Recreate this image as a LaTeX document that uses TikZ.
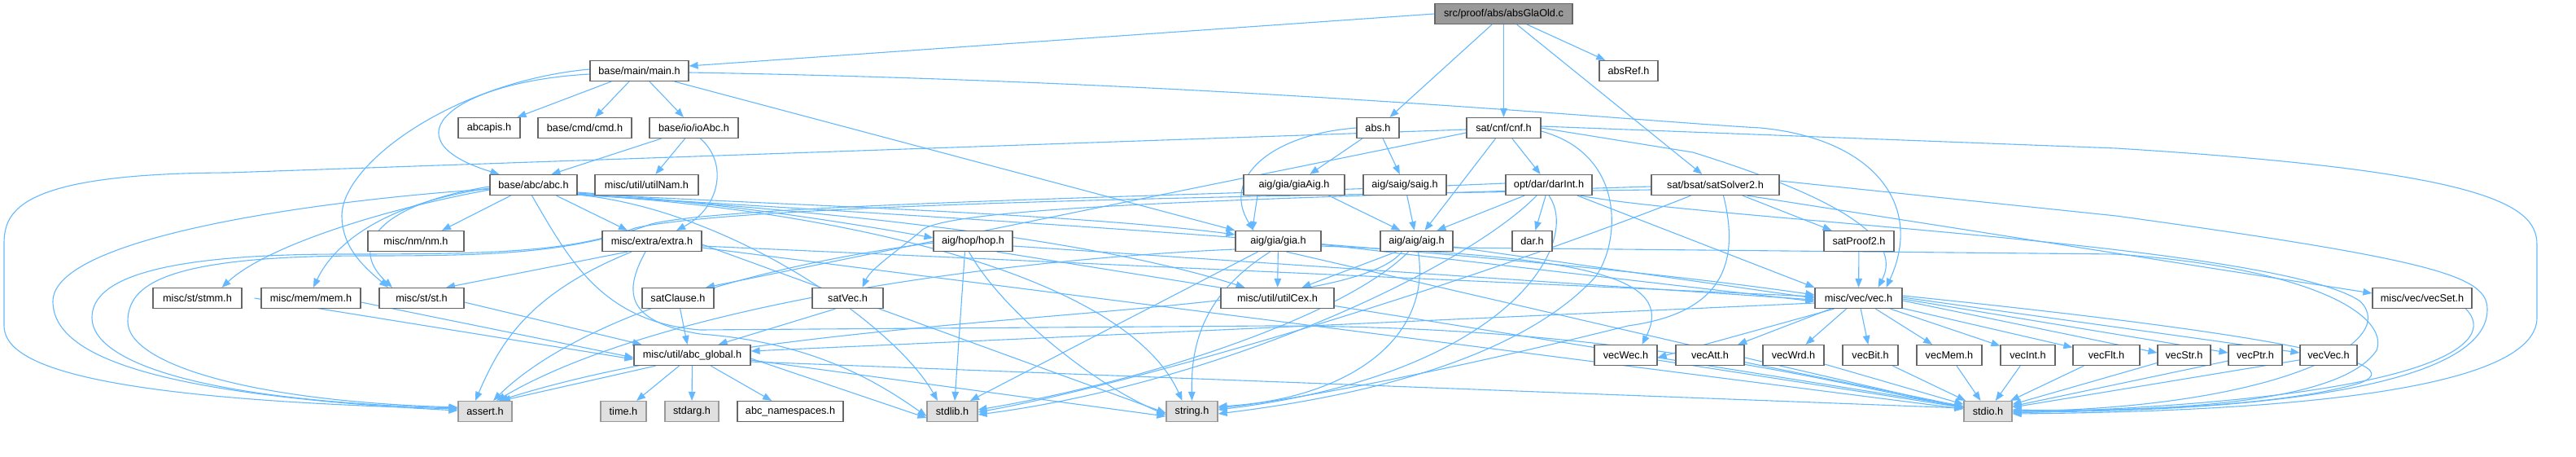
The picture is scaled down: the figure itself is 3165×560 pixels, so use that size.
\documentclass[tikz,border=0pt]{standalone}
\usepackage{fontspec}
\setmainfont{Liberation Sans}
\usetikzlibrary{arrows.meta}
\definecolor{edgec}{HTML}{63B8FF}
\definecolor{bordc}{HTML}{666666}
\definecolor{sysfill}{HTML}{E0E0E0}
\definecolor{sysbord}{HTML}{999999}
\definecolor{rootfill}{HTML}{999999}
\pgfdeclarelayer{bg}
\pgfsetlayers{bg,main}
\begin{document}
\begin{tikzpicture}[x=1pt,y=-1pt,
 hbox/.style={draw=bordc, line width=1.2pt, fill=white, minimum height=25pt, inner sep=0pt, font=\fontsize{12.7}{15}\selectfont, text=black},
 sysbox/.style={hbox, fill=sysfill, draw=sysbord},
 rootbox/.style={hbox, fill=rootfill},
 edge/.style={draw=edgec, line width=1.1pt, -{Triangle[length=11pt,width=8.5pt]}},
]
\useasboundingbox (0,0) rectangle (3165,560);
% row 0
\node[rootbox, minimum width=169pt] (src) at (1847.5,17) {src/proof/abs/absGlaOld.c};
% row 1
\node[hbox, minimum width=121pt] (main) at (785.5,87) {base/main/main.h};
\node[hbox, minimum width=72pt] (absRef) at (2001,87) {absRef.h};
% row 2
\node[hbox, minimum width=76pt] (abcapis) at (601,157) {abcapis.h};
\node[hbox, minimum width=115pt] (cmd) at (718.5,157) {base/cmd/cmd.h};
\node[hbox, minimum width=109pt] (ioAbc) at (852.5,157) {base/io/ioAbc.h};
\node[hbox, minimum width=52pt] (abs) at (1693,157) {abs.h};
\node[hbox, minimum width=91pt] (cnf) at (1847.5,157) {sat/cnf/cnf.h};
% row 3
\node[hbox, minimum width=107pt] (abc) at (655.5,227) {base/abc/abc.h};
\node[hbox, minimum width=127pt] (utilNam) at (794.5,227) {misc/util/utilNam.h};
\node[hbox, minimum width=124pt] (giaAig) at (1590,227) {aig/gia/giaAig.h};
\node[hbox, minimum width=102pt] (saig) at (1726,227) {aig/saig/saig.h};
\node[hbox, minimum width=106pt] (darInt) at (1903,227) {opt/dar/darInt.h};
\node[hbox, minimum width=157pt] (satSolver2) at (2107.5,227) {sat/bsat/satSolver2.h};
% row 4
\node[hbox, minimum width=118pt] (nm) at (511,296) {misc/nm/nm.h};
\node[hbox, minimum width=122pt] (extra) at (801,296) {misc/extra/extra.h};
\node[hbox, minimum width=97pt] (hop) at (1195.5,296) {aig/hop/hop.h};
\node[hbox, minimum width=105pt] (gia) at (1570.5,296) {aig/gia/gia.h};
\node[hbox, minimum width=89pt] (aig) at (1740.5,296) {aig/aig/aig.h};
\node[hbox, minimum width=49pt] (dar) at (1882.5,296) {dar.h};
\node[hbox, minimum width=86pt] (satProof2) at (2284,296) {satProof2.h};
% row 5
\node[hbox, minimum width=109pt] (stmm) at (242.5,366) {misc/st/stmm.h};
\node[hbox, minimum width=122pt] (mem) at (382,366) {misc/mem/mem.h};
\node[hbox, minimum width=104pt] (st) at (518,366) {misc/st/st.h};
\node[hbox, minimum width=88pt] (satClause) at (833,366) {satClause.h};
\node[hbox, minimum width=87pt] (satVec) at (1041.5,366) {satVec.h};
\node[hbox, minimum width=139pt] (utilCex) at (1569.5,366) {misc/util/utilCex.h};
\node[hbox, minimum width=107pt] (vec) at (2283.5,366) {misc/vec/vec.h};
\node[hbox, minimum width=122pt] (vecSet) at (2976,366) {misc/vec/vecSet.h};
% row 6
\node[hbox, minimum width=143pt] (abcglobal) at (850.5,436) {misc/util/abc\_global.h};
\node[hbox, minimum width=77pt] (vecWec) at (1997.5,436) {vecWec.h};
\node[hbox, minimum width=84pt] (vecAtt) at (2101,436) {vecAtt.h};
\node[hbox, minimum width=75pt] (vecWrd) at (2203.5,436) {vecWrd.h};
\node[hbox, minimum width=68pt] (vecBit) at (2298,436) {vecBit.h};
\node[hbox, minimum width=80pt] (vecMem) at (2395,436) {vecMem.h};
\node[hbox, minimum width=67pt] (vecInt) at (2491.5,436) {vecInt.h};
\node[hbox, minimum width=82pt] (vecFlt) at (2588,436) {vecFlt.h};
\node[hbox, minimum width=65pt] (vecStr) at (2683.5,436) {vecStr.h};
\node[hbox, minimum width=66pt] (vecPtr) at (2771,436) {vecPtr.h};
\node[hbox, minimum width=70pt] (vecVec) at (2861,436) {vecVec.h};
% row 7
\node[sysbox, minimum width=66pt] (assert) at (596,505) {assert.h};
\node[sysbox, minimum width=56pt] (time) at (766,505) {time.h};
\node[sysbox, minimum width=66pt] (stdarg) at (850,505) {stdarg.h};
\node[hbox, minimum width=130pt] (abcns) at (971,505) {abc\_namespaces.h};
\node[sysbox, minimum width=62pt] (stdlib) at (1170,505) {stdlib.h};
\node[sysbox, minimum width=63pt] (string) at (1464.5,505) {string.h};
\node[sysbox, minimum width=59pt] (stdio) at (2442.5,505) {stdio.h};

\begin{pgfonlayer}{bg}
% root
\draw[edge] (src.west) -- ([yshift=6pt]main.east);
\draw[edge] (src) -- (abs);
\draw[edge] (src) -- (cnf);
\draw[edge] (src) -- (satSolver2);
\draw[edge] (src) -- (absRef);
% main
\draw[edge] (main) -- (abcapis);
\draw[edge] (main) -- (cmd);
\draw[edge] (main) -- (ioAbc);
\draw[edge] ([yshift=-4pt]main.west) .. controls (560,100) and (470,170) .. ([xshift=-42pt]abc.north);
\draw[edge] ([yshift=2pt]main.west) .. controls (560,100) and (420,200) .. (420,265) .. controls (420,305) and (450,330) .. ([xshift=-41pt]st.north);
\draw[edge] ([xshift=-18pt]main.south east) -- (gia.north west);
\draw[edge] ([yshift=-2pt]main.east) .. controls (1500,100) and (2000,148) .. (2163,157) .. controls (2300,170) and (2365,250) .. ([xshift=34pt]vec.north);
% ioAbc
\draw[edge] ([xshift=-40pt]ioAbc.south) -- ([xshift=22pt]abc.north);
\draw[edge] (ioAbc) -- (utilNam);
\draw[edge] ([xshift=8pt]ioAbc.south) .. controls (895,200) and (885,255) .. ([xshift=30pt]extra.north);
% abc
\draw[edge] ([xshift=-28pt]abc.south) -- ([xshift=32pt]nm.north);
\draw[edge] ([xshift=28pt]abc.south) -- ([xshift=-30pt]extra.north);
\draw[edge] ([yshift=-2pt]abc.west) .. controls (470,250) and (425,300) .. ([xshift=-36pt]st.north);
\draw[edge] ([yshift=-6pt]abc.west) .. controls (480,255) and (330,300) .. ([xshift=30pt]stmm.north);
\draw[edge] ([yshift=-4pt]abc.west) .. controls (470,250) and (410,300) .. ([xshift=3pt]mem.north);
\draw[edge] ([yshift=-9pt]abc.east) .. controls (900,250) and (1050,275) .. ([yshift=4pt]hop.west);
\draw[edge] ([yshift=-10pt]abc.east) .. controls (900,250) and (1300,260) .. ([yshift=-5pt]gia.north west);
\draw[edge] ([yshift=-11pt]abc.east) .. controls (900,252) and (1300,280) .. ([xshift=-40pt]utilCex.north);
\draw[edge] ([yshift=-12pt]abc.east) .. controls (1000,258) and (1800,300) .. ([yshift=4pt]vec.west);
\draw[edge] ([yshift=-5pt]abc.west) .. controls (400,245) and (65,290) .. (65,370) .. controls (65,440) and (200,485) .. ([yshift=1pt]assert.west);
\draw[edge] ([xshift=-2pt]abc.south) .. controls (700,320) and (740,395) .. (860,405) -- (1560,400) .. controls (2000,400) and (2250,470) .. ([yshift=5pt]stdio.west);
\draw[edge] ([yshift=-12pt]abc.east) .. controls (1000,255) and (1380,330) .. ([xshift=-12pt]string.north);
\draw[edge] ([yshift=-12pt]abc.east) .. controls (900,258) and (1100,400) .. ([xshift=-18pt]stdlib.north);
% abs
\draw[edge] (abs.west) .. controls (1560,165) and (1500,220) .. ([xshift=-30pt]gia.north);
\draw[edge] (abs) -- (giaAig);
\draw[edge] (abs) -- (saig);
% cnf
\draw[edge] (cnf) -- (darInt);
\draw[edge] ([xshift=-10pt]cnf.south) -- ([xshift=10pt]aig.north);
\draw[edge] (cnf.east) -- (2080,187) .. controls (2250,240) and (2340,290) .. ([xshift=24pt]vec.north);
\draw[edge] ([yshift=-2pt]cnf.west) -- (280,212) .. controls (20,213) and (5,260) .. (5,300) -- (5,400) .. controls (5,450) and (120,490) .. ([yshift=3pt]assert.west);
\draw[edge] ([yshift=-6pt]cnf.west) -- ([xshift=34pt]satClause.north);
\draw[edge] ([yshift=-4pt]cnf.east) .. controls (2000,190) and (1990,300) .. (1960,340) .. controls (1850,460) and (1600,495) .. ([yshift=-3pt]string.east);
\draw[edge] ([yshift=2pt]cnf.east) -- (2600,182) .. controls (3050,210) and (3117,250) .. (3117,300) -- (3117,390) .. controls (3117,480) and (2800,505) .. ([yshift=-3pt]stdio.east);
% giaAig, saig
\draw[edge] ([xshift=-45pt]giaAig.south) -- ([xshift=-32pt]gia.north);
\draw[edge] ([xshift=-20pt]giaAig.south east) -- ([xshift=-20pt]aig.north);
\draw[edge] (saig) -- (aig);
% darInt
\draw[edge] ([xshift=-30pt]darInt.south) -- ([xshift=25pt]aig.north);
\draw[edge] (darInt) -- (dar);
\draw[edge] ([xshift=35pt]darInt.south) -- (vec.north west);
\draw[edge] ([yshift=2pt]darInt.west) .. controls (1500,240) and (900,250) .. (800,275) .. controls (700,312) and (600,314) .. (450,314) .. controls (200,314) and (157,350) .. (157,395) .. controls (157,445) and (300,492) .. ([yshift=5pt]assert.west);
\draw[edge] ([xshift=-15pt]darInt.south) .. controls (1800,330) and (1500,470) .. ([yshift=-4pt]stdlib.east);
\draw[edge] ([xshift=0pt]darInt.south) .. controls (1945,300) and (1850,460) .. ([yshift=2pt]string.east);
\draw[edge] ([xshift=-15pt]darInt.south east) .. controls (2100,270) and (2800,300) .. (2900,370) .. controls (2950,420) and (2800,500) .. ([yshift=0pt]stdio.east);
% satSolver2
\draw[edge] (satSolver2) -- (satProof2);
\draw[edge] ([xshift=-40pt]satSolver2.south east) -- ([yshift=6pt]vecSet.west);
\draw[edge] ([yshift=-2pt]satSolver2.west) .. controls (1500,245) and (1150,255) .. (1130,285) .. controls (1100,310) and (1070,330) .. ([xshift=18pt]satVec.north);
\draw[edge] ([yshift=-6pt]satSolver2.west) .. controls (1500,240) and (900,252) .. (780,280) .. controls (700,310) and (600,312) .. (420,312) .. controls (170,312) and (113,350) .. (113,390) .. controls (113,445) and (250,492) .. ([yshift=4pt]assert.west);
\draw[edge] ([xshift=-30pt]satSolver2.south) .. controls (1800,350) and (1400,470) .. ([yshift=-1pt]stdlib.east);
\draw[edge] ([xshift=10pt]satSolver2.south) .. controls (2140,330) and (2110,385) .. (2000,400) .. controls (1800,450) and (1600,490) .. ([yshift=4pt]string.east);
\draw[edge] ([yshift=5pt]satSolver2.east) -- (2600,265) .. controls (3000,320) and (3056,340) .. (3056,380) .. controls (3056,470) and (2800,505) .. ([yshift=-1pt]stdio.east);
% extra
\draw[edge] ([xshift=-30pt]extra.south) -- ([xshift=30pt]st.north);
\draw[edge] ([xshift=-25pt]extra.south) .. controls (650,360) and (615,420) .. ([xshift=-12pt]assert.north);
\draw[edge] ([xshift=-8pt]extra.south) .. controls (765,360) and (770,395) .. (860,410) .. controls (1000,420) and (1080,470) .. ([yshift=-6pt]stdlib.west);
\draw[edge] ([yshift=-4pt]extra.east) -- ([yshift=-2pt]string.west);
\draw[edge] ([yshift=-6pt]extra.east) -- ([yshift=2pt]vec.west);
\draw[edge] ([yshift=-8pt]extra.east) -- ([yshift=3pt]stdio.west);
% hop
\draw[edge] ([xshift=-10pt]hop.south) -- ([xshift=3pt]stdlib.north);
\draw[edge] ([xshift=-5pt]hop.south) .. controls (1230,380) and (1340,470) .. ([yshift=-4pt]string.west);
\draw[edge] ([yshift=-6pt]hop.east) -- ([yshift=-2pt]vec.west);
\draw[edge] ([xshift=-20pt]hop.south east) -- ([yshift=6pt]stdio.west);
\draw[edge] ([yshift=-2pt]hop.west) .. controls (900,330) and (700,400) .. ([xshift=10pt]assert.north);
% gia
\draw[edge] (gia) -- (utilCex);
\draw[edge] ([xshift=-25pt]gia.south) -- ([xshift=22pt]stdlib.north);
\draw[edge] ([xshift=-10pt]gia.south) .. controls (1480,360) and (1463,420) .. ([xshift=0pt]string.north);
\draw[edge] ([yshift=-6pt]gia.east) .. controls (1950,315) and (2060,340) .. ([xshift=20pt]vecWec.north);
\draw[edge] ([yshift=-4pt]gia.east) -- ([yshift=-4pt]vec.west);
\draw[edge] ([xshift=10pt]gia.south) -- ([yshift=4pt]stdio.west);
\draw[edge] ([yshift=-10pt]gia.west) .. controls (1200,320) and (800,380) .. ([xshift=14pt]assert.north);
% aig
\draw[edge] ([xshift=-25pt]aig.south) -- ([xshift=30pt]utilCex.north);
\draw[edge] ([xshift=-10pt]aig.south) .. controls (1650,390) and (1400,470) .. ([yshift=2pt]stdlib.east);
\draw[edge] ([xshift=2pt]aig.south) .. controls (1760,420) and (1650,490) .. ([yshift=6pt]string.east);
\draw[edge] ([xshift=-18pt]aig.south) .. controls (1650,400) and (1000,370) .. ([xshift=17pt]assert.north);
\draw[edge] ([yshift=-7pt]aig.east) -- ([yshift=0pt]vec.west);
\draw[edge] ([yshift=-8pt]aig.east) -- (2600,312) .. controls (2850,330) and (2935,390) .. (2920,430) .. controls (2880,490) and (2700,505) .. ([yshift=1pt]stdio.east);
% satProof2, leaves
\draw[edge] (satProof2) -- (vec);
\draw[edge] ([xshift=15pt]stmm.east) -- ([yshift=-5pt]abcglobal.west);
\draw[edge] ([yshift=-5pt]mem.east) -- ([yshift=-3pt]abcglobal.west);
\draw[edge] ([yshift=-5pt]st.east) -- ([xshift=10pt]abcglobal.north west);
\draw[edge] (satClause) -- ([xshift=-6pt]abcglobal.north);
\draw[edge] ([xshift=-15pt]satVec.south) -- ([xshift=-40pt]abcglobal.north east);
\draw[edge] ([yshift=-6pt]vec.west) -- ([yshift=5pt]abcglobal.east);
% vec
\draw[edge] ([xshift=-30pt]vec.south) -- ([yshift=-3pt]vecWec.east);
\draw[edge] (vec) -- (vecAtt);
\draw[edge] (vec) -- (vecWrd);
\draw[edge] (vec) -- (vecBit);
\draw[edge] (vec) -- (vecMem);
\draw[edge] (vec) -- (vecInt);
\draw[edge] (vec) -- (vecFlt);
\draw[edge] ([yshift=-3pt]vec.east) -- ([yshift=3pt]vecStr.west);
\draw[edge] ([yshift=-1pt]vec.east) -- ([yshift=3pt]vecPtr.west);
\draw[edge] ([yshift=1pt]vec.east) -- ([yshift=3pt]vecVec.west);
\draw[edge] ([yshift=3pt]vec.east) .. controls (2700,400) and (2980,440) .. (2900,470) .. controls (2800,500) and (2600,505) .. ([yshift=2pt]stdio.east);
% abc_global
\draw[edge] (abcglobal) -- (time);
\draw[edge] (abcglobal) -- (stdarg);
\draw[edge] (abcglobal) -- (abcns);
\draw[edge] ([xshift=-45pt]abcglobal.south) -- ([xshift=20pt]assert.north);
\draw[edge] ([yshift=-4pt]abcglobal.east) -- ([yshift=-8pt]stdlib.west);
\draw[edge] ([yshift=-6pt]abcglobal.east) -- ([yshift=-6pt]string.west);
\draw[edge] ([yshift=-8pt]abcglobal.east) -- ([yshift=4pt]stdio.west);
% vec* to stdio
\draw[edge] (vecWec) -- (stdio);
\draw[edge] (vecAtt) -- (stdio);
\draw[edge] (vecWrd) -- (stdio);
\draw[edge] (vecBit) -- (stdio);
\draw[edge] (vecMem) -- (stdio);
\draw[edge] (vecInt) -- (stdio);
\draw[edge] (vecFlt) -- (stdio);
\draw[edge] (vecStr) -- (stdio);
\draw[edge] (vecPtr) -- (stdio);
\draw[edge] (vecVec) -- (stdio);
\draw[edge] ([xshift=-8pt]vecSet.south east) .. controls (3070,420) and (3000,490) .. ([yshift=-2pt]stdio.east);
\end{pgfonlayer}
\end{tikzpicture}
\end{document}
